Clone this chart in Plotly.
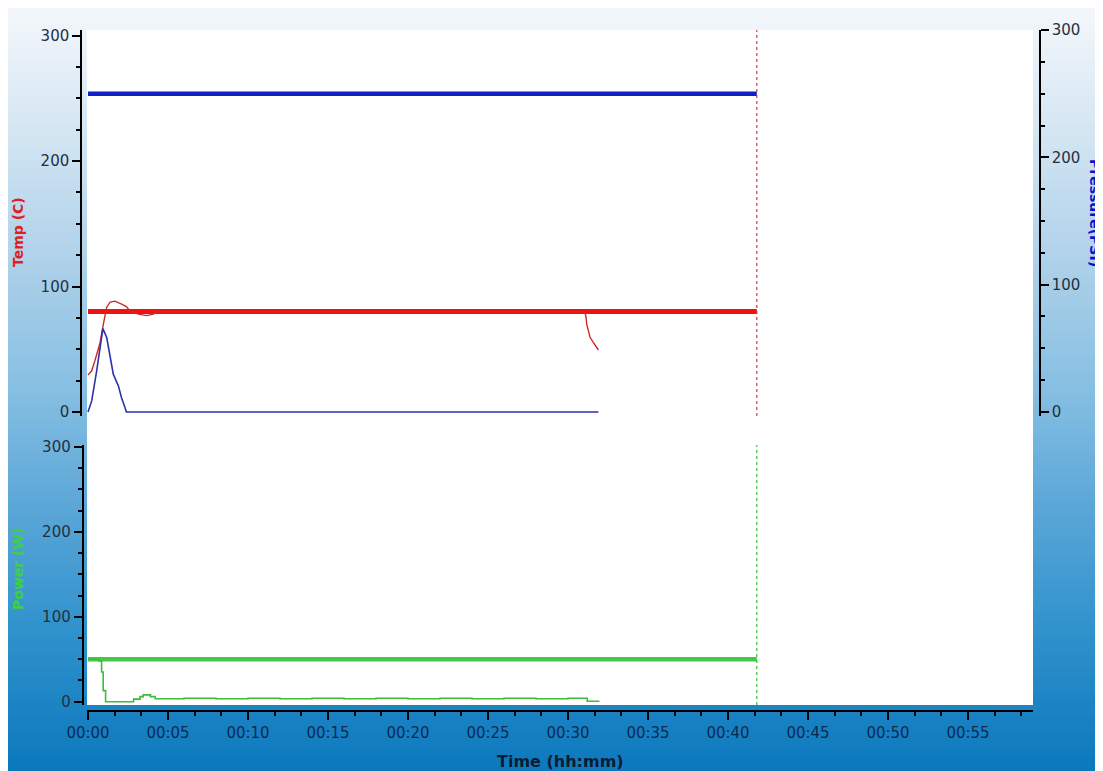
import plotly.graph_objects as go

# ---------------- data ----------------
tick_minutes = [0, 5, 10, 15, 20, 25, 30, 35, 40, 45, 50, 55]
tick_labels = ["00:00", "00:05", "00:10", "00:15", "00:20", "00:25",
               "00:30", "00:35", "00:40", "00:45", "00:50", "00:55"]

temp_time = [0.0, 0.23, 0.43, 0.75, 0.96, 1.17, 1.38, 1.69, 2.1, 2.4, 2.6,
             3.15, 3.67, 4.08, 4.4, 10.0, 20.0, 31.0, 31.06, 31.13, 31.17,
             31.27, 31.38, 31.58, 31.9]
temp_vals = [29.4, 32.8, 40.8, 55.0, 70.0, 83.5, 87.5, 88.3, 86.0, 84.0, 80.8,
             78.0, 76.8, 78.0, 80.0, 80.0, 80.0, 80.0, 79.4, 75.4, 70.0,
             65.0, 59.5, 55.5, 49.4]

pressure_time = [0.0, 0.23, 0.54, 0.75, 0.93, 1.17, 1.38, 1.58, 1.9, 2.1, 2.3, 2.4, 31.9]
pressure_vals = [0.0, 8.7, 32.0, 50.6, 65.5, 58.5, 45.0, 29.7, 20.5, 11.0, 4.0, 0.0, 0.0]

power_time = [0.0, 0.7, 0.85, 0.95, 1.1, 2.7, 2.85, 3.25, 3.45, 3.9, 4.2, 6.0, 8.0,
              10.0, 12.0, 14.0, 16.0, 18.0, 20.0, 22.0, 24.0, 26.0, 28.0, 30.0,
              31.1, 31.2, 31.96]
power_vals = [50.0, 48.0, 35.0, 13.0, 0.0, 0.0, 3.0, 6.0, 8.0, 6.0, 3.5, 4.0, 3.5,
              4.0, 3.5, 4.0, 3.5, 4.0, 3.5, 4.0, 3.5, 4.0, 3.5, 4.0,
              4.0, 0.5, 0.5]

setpoint_time = [0.0, 41.8]
temp_setpoint = [80.0, 80.0]
pressure_setpoint = [250.0, 250.0]
power_setpoint = [50.0, 50.0]
stop_time = 41.8

# ---------------- layout helpers ----------------
W, H = 1095, 763


def px(x):
    return x / W


def py(y):
    return 1 - y / H


FONT = "DejaVu Sans"
TICK_COLOR = "#25303f"

fig = go.Figure()

# background gradient (vertical) drawn as thin strips
stops = [(0.0, (244, 247, 251)), (0.15, (214, 231, 243)), (0.35, (170, 207, 233)),
         (0.5, (134, 191, 226)), (0.65, (92, 167, 216)), (0.8, (52, 148, 205)),
         (1.0, (11, 120, 189))]


def grad_color(f):
    for i in range(len(stops) - 1):
        a, ca = stops[i]
        b, cb = stops[i + 1]
        if a <= f <= b:
            t = (f - a) / (b - a)
            c = [round(ca[k] + (cb[k] - ca[k]) * t) for k in range(3)]
            return "rgb(%d,%d,%d)" % tuple(c)
    return "rgb(%d,%d,%d)" % stops[-1][1]


shapes = []
N = 190
for i in range(N):
    f0 = i / N
    f1 = (i + 1) / N
    shapes.append(dict(type="rect", xref="paper", yref="paper", x0=0, x1=1,
                       y0=1 - f1 - 0.001, y1=1 - f0, line=dict(width=0),
                       fillcolor=grad_color((f0 + f1) / 2), layer="below"))

# white plotting area
shapes.append(dict(type="rect", xref="paper", yref="paper", x0=px(79), x1=px(1025),
                   y0=py(697), y1=py(22), line=dict(width=0), fillcolor="white",
                   layer="below"))

# stop markers
shapes.append(dict(type="line", xref="x", yref="y domain", x0=stop_time, x1=stop_time,
                   y0=0, y1=1, line=dict(color="#cc3a3a", width=1.2, dash="dot")))
shapes.append(dict(type="line", xref="x", yref="y3 domain", x0=stop_time, x1=stop_time,
                   y0=0, y1=1, line=dict(color="#3cbb3c", width=1.2, dash="dot")))

# ---------------- traces ----------------
fig.add_trace(go.Scatter(x=setpoint_time, y=pressure_setpoint, xaxis="x", yaxis="y2",
                         mode="lines", line=dict(color="#1020c8", width=4.5),
                         hoverinfo="skip", showlegend=False))
fig.add_trace(go.Scatter(x=setpoint_time, y=temp_setpoint, xaxis="x", yaxis="y",
                         mode="lines", line=dict(color="#ee1212", width=5),
                         hoverinfo="skip", showlegend=False))
fig.add_trace(go.Scatter(x=temp_time, y=temp_vals, xaxis="x", yaxis="y",
                         mode="lines", line=dict(color="#d02828", width=1.4),
                         showlegend=False))
fig.add_trace(go.Scatter(x=pressure_time, y=pressure_vals, xaxis="x", yaxis="y2",
                         mode="lines", line=dict(color="#2e32a6", width=1.6),
                         showlegend=False))
fig.add_trace(go.Scatter(x=setpoint_time, y=power_setpoint, xaxis="x", yaxis="y3",
                         mode="lines", line=dict(color="#46c846", width=4.5),
                         hoverinfo="skip", showlegend=False))
fig.add_trace(go.Scatter(x=power_time, y=power_vals, xaxis="x", yaxis="y3",
                         mode="lines", line=dict(color="#3cbb3c", width=1.6, shape="hv"),
                         showlegend=False))

minor_x = [k * 5 / 3 for k in range(0, 36) if k % 3 != 0]

axis_common = dict(showgrid=False, zeroline=False, showline=True, linecolor="black",
                   linewidth=1.5, ticks="outside", ticklen=8, tickwidth=1.5,
                   tickcolor="black", tickfont=dict(family=FONT, size=15, color=TICK_COLOR),
                   tickmode="linear", tick0=0, dtick=100, fixedrange=True,
                   automargin=False)

fig.update_layout(
    template="none",
    width=W, height=H,
    margin=dict(l=0, r=0, t=0, b=0, pad=0, autoexpand=False),
    paper_bgcolor="rgb(244,247,251)",
    plot_bgcolor="rgba(0,0,0,0)",
    showlegend=False,
    shapes=shapes,
    xaxis=dict(domain=[px(79), px(1025)], range=[-0.0625, 59.0625], anchor="free",
               position=py(703), showgrid=False, zeroline=False, showline=True,
               linecolor="black", linewidth=1.5, ticks="outside", ticklen=8,
               tickwidth=1.5, tickcolor="black", tickmode="array",
               tickvals=tick_minutes, ticktext=tick_labels,
               tickfont=dict(family=FONT, size=15, color="#0e2a4e"),
               minor=dict(tickmode="array", tickvals=minor_x, ticks="outside",
                          ticklen=4, tickwidth=1.5, tickcolor="black"),
               fixedrange=True, automargin=False),
    yaxis=dict(domain=[py(408), py(22)], range=[-3.2, 304.4], anchor="free",
               position=px(73), side="left",
               minor=dict(ticks="outside", ticklen=4, tickwidth=1.5, tickcolor="black",
                          tick0=0, dtick=25),
               **axis_common),
    yaxis2=dict(overlaying="y", range=[-3.15, 300], anchor="free", position=px(1032),
                side="right",
                minor=dict(ticks="outside", ticklen=4, tickwidth=1.5, tickcolor="black",
                           tick0=0, dtick=25),
                **axis_common),
    yaxis3=dict(domain=[py(697), py(437)], range=[-3.9, 302.4], anchor="free",
                position=px(74.5), side="left",
                minor=dict(ticks="outside", ticklen=4, tickwidth=1.5, tickcolor="black",
                           tick0=0, dtick=25),
                **axis_common),
    annotations=[
        dict(text="<b>Temp (C)</b>", xref="paper", yref="paper", x=px(10), y=py(224),
             textangle=-90, showarrow=False, xanchor="center", yanchor="middle",
             font=dict(family=FONT, size=14, color="#e01e1e")),
        dict(text="<b>Power (W)</b>", xref="paper", yref="paper", x=px(10), y=py(561),
             textangle=-90, showarrow=False, xanchor="center", yanchor="middle",
             font=dict(family=FONT, size=14, color="#3fd03f")),
        dict(text="<b>Pressure(PSI)</b>", xref="paper", yref="paper", x=px(1087),
             y=py(205), textangle=90, showarrow=False, xanchor="center",
             yanchor="middle", font=dict(family=FONT, size=14, color="#1010cc")),
        dict(text="<b>Time (hh:mm)</b>", xref="paper", yref="paper", x=px(552),
             y=py(753), showarrow=False, xanchor="center", yanchor="middle",
             font=dict(family=FONT, size=16, color="#0b1b33")),
    ],
)

fig.write_html("out.html", config={"displayModeBar": False},
               post_script="document.body.style.overflow='hidden';")
